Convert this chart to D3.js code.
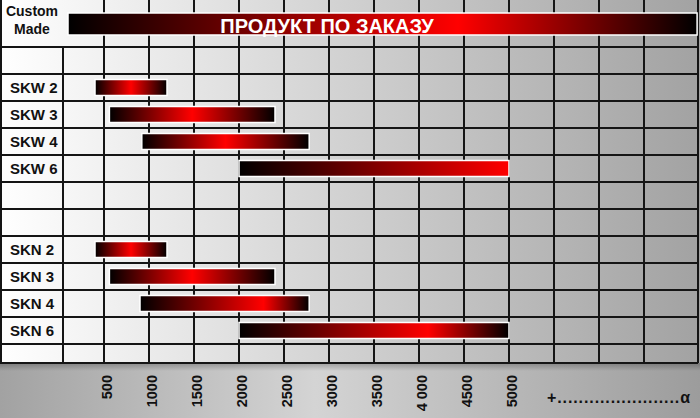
<!DOCTYPE html>
<html>
<head>
<meta charset="utf-8">
<script src="https://cdn.jsdelivr.net/npm/d3@7"></script>
<style>
  html, body { margin: 0; padding: 0; background: #fff; }
  svg { display: block; }
</style>
</head>
<body>
<svg id="chart" width="700" height="418"></svg>
<script>
// ---------- data ----------
const rowLabels = ["", "SKW 2", "SKW 3", "SKW 4", "SKW 6", "", "", "SKN 2", "SKN 3", "SKN 4", "SKN 6", ""];
const barNames  = ["SKW 2", "SKW 3", "SKW 4", "SKW 6", "SKN 2", "SKN 3", "SKN 4", "SKN 6"];
const barStart  = [400, 560, 920, 2000, 400, 560, 900, 2000];
const barEnd    = [1200, 2400, 2780, 5000, 1200, 2400, 2780, 5000];
const tickValues = [500, 1000, 1500, 2000, 2500, 3000, 3500, 4000, 4500, 5000];
const tickLabels = ["500", "1000", "1500", "2000", "2500", "3000", "3500", "4 000", "4500", "5000"];
const gridValues = [500, 1000, 1500, 2000, 2500, 3000, 3500, 4000, 4500, 5000, 5500, 6000, 6500];
const customLabel = ["Custom", "Made"];
const customText = "ПРОДУКТ ПО ЗАКАЗУ";
const customRange = [100, 7090];
const tailText = "+.......................α";

// ---------- styles (not data) ----------
const peakPos = [0.5, 0.5, 0.5, 1.0, 0.5, 0.5, 0.73, 0.7];
const customPeak = 0.62;

(function () {
const W = 700, H = 418;
const mLeft = 63, mRight = 698, mTop = 0, plotBottom = 363, customRowH = 47;
const svg = d3.select("#chart");
const defs = svg.append("defs");
const font = "'Liberation Sans', Arial, sans-serif";

const x = d3.scaleLinear().domain([500, 5000]).range([104, 509]);
// last (blank) row is cut short by the axis strip
const y = d3.scaleBand().domain(d3.range(rowLabels.length)).range([customRowH, 371]);

// background gradients
const bg = defs.append("linearGradient").attr("id", "bg").attr("x1", 0).attr("x2", 1).attr("y1", 0).attr("y2", 0);
bg.append("stop").attr("offset", 0).attr("stop-color", "#ffffff");
bg.append("stop").attr("offset", 1).attr("stop-color", "#a2a2a2");

const ax = defs.append("linearGradient").attr("id", "axbg").attr("x1", 0).attr("x2", 1).attr("y1", 0).attr("y2", 0);
ax.append("stop").attr("offset", 0).attr("stop-color", "#a2a2a2");
ax.append("stop").attr("offset", 0.45).attr("stop-color", "#d4d4d4");
ax.append("stop").attr("offset", 1).attr("stop-color", "#9c9c9c");

const sh = defs.append("linearGradient").attr("id", "shade").attr("x1", 0).attr("x2", 0).attr("y1", 0).attr("y2", 1);
sh.append("stop").attr("offset", 0).attr("stop-color", "#000").attr("stop-opacity", 0.25);
sh.append("stop").attr("offset", 1).attr("stop-color", "#000").attr("stop-opacity", 0);

svg.append("rect").attr("x", 0).attr("y", 0).attr("width", W).attr("height", plotBottom).attr("fill", "url(#bg)");
svg.append("rect").attr("x", 0).attr("y", plotBottom).attr("width", W).attr("height", H - plotBottom).attr("fill", "url(#axbg)");
svg.append("rect").attr("x", 0).attr("y", plotBottom).attr("width", W).attr("height", 8).attr("fill", "url(#shade)");

// grid
const grid = svg.append("g").attr("stroke", "#151515").attr("stroke-width", 2);
grid.selectAll("line.v").data(gridValues).join("line")
  .attr("x1", d => x(d)).attr("x2", d => x(d)).attr("y1", mTop).attr("y2", plotBottom);
grid.append("line").attr("x1", mLeft).attr("x2", mLeft).attr("y1", customRowH).attr("y2", plotBottom);
grid.append("line").attr("x1", mRight).attr("x2", mRight).attr("y1", mTop).attr("y2", plotBottom);
grid.append("line").attr("x1", 1).attr("x2", 1).attr("y1", mTop).attr("y2", plotBottom);
const hLines = d3.range(rowLabels.length).map(i => y(i)).concat([plotBottom]);
grid.selectAll("line.h").data(hLines).join("line")
  .attr("x1", 0).attr("x2", mRight).attr("y1", d => d).attr("y2", d => d);

// row labels
svg.append("g").selectAll("text").data(rowLabels.map((t, i) => ({t, i})).filter(d => d.t))
  .join("text")
  .attr("x", 10).attr("y", d => y(d.i) + y.bandwidth() / 2)
  .attr("dy", "0.36em")
  .attr("font-family", font).attr("font-weight", "bold").attr("font-size", 15)
  .attr("fill", "#111")
  .text(d => d.t);

svg.append("g").selectAll("text").data(customLabel).join("text")
  .attr("x", 32).attr("y", (d, i) => 16 + i * 18)
  .attr("text-anchor", "middle")
  .attr("font-family", font).attr("font-weight", "bold").attr("font-size", 14)
  .attr("fill", "#111")
  .text(d => d);

// custom bar
const cg = defs.append("linearGradient").attr("id", "cg").attr("x1", 0).attr("x2", 1).attr("y1", 0).attr("y2", 0);
cg.append("stop").attr("offset", 0).attr("stop-color", "#000");
cg.append("stop").attr("offset", customPeak).attr("stop-color", "#ff0000");
cg.append("stop").attr("offset", 1).attr("stop-color", "#000");
svg.append("rect")
  .attr("x", x(customRange[0])).attr("y", 13)
  .attr("width", Math.min(x(customRange[1]), mRight) - x(customRange[0])).attr("height", 22)
  .attr("fill", "url(#cg)").attr("stroke", "#fff").attr("stroke-width", 1.5);
svg.append("text")
  .attr("x", 327).attr("y", 33).attr("text-anchor", "middle")
  .attr("font-family", font).attr("font-weight", "bold").attr("font-size", 20)
  .attr("fill", "#fff")
  .text(customText);

// bars
barNames.forEach((n, i) => {
  const g = defs.append("linearGradient").attr("id", "bar" + i).attr("x1", 0).attr("x2", 1).attr("y1", 0).attr("y2", 0);
  g.append("stop").attr("offset", 0).attr("stop-color", "#000");
  g.append("stop").attr("offset", peakPos[i]).attr("stop-color", "#ff0000");
  if (peakPos[i] < 1) g.append("stop").attr("offset", 1).attr("stop-color", "#000");
});
const barH = 16;
svg.append("g").selectAll("rect").data(barNames.map((n, i) => ({n, i, s: barStart[i], e: barEnd[i]})))
  .join("rect")
  .attr("x", d => x(d.s))
  .attr("y", d => y(rowLabels.indexOf(d.n)) + (y.bandwidth() - barH) / 2)
  .attr("width", d => x(d.e) - x(d.s))
  .attr("height", barH)
  .attr("fill", d => "url(#bar" + d.i + ")")
  .attr("stroke", "#fff").attr("stroke-width", 1.5);

// x axis
const axis = d3.axisBottom(x).tickValues(tickValues).tickFormat((d, i) => tickLabels[i]).tickSize(0);
const axG = svg.append("g").attr("transform", `translate(0,${plotBottom})`).call(axis);
axG.select(".domain").remove();
axG.selectAll("text")
  .attr("transform", "rotate(-90)")
  .attr("x", -12).attr("y", 2).attr("dy", "0.35em")
  .attr("text-anchor", "end")
  .attr("font-family", font).attr("font-weight", "bold").attr("font-size", 14.5)
  .attr("fill", "#111");

svg.append("text")
  .attr("x", 547).attr("y", 403)
  .attr("textLength", 143).attr("lengthAdjust", "spacing")
  .attr("font-family", font).attr("font-weight", "bold").attr("font-size", 16)
  .attr("fill", "#111")
  .text(tailText);
})();
</script>
</body>
</html>
